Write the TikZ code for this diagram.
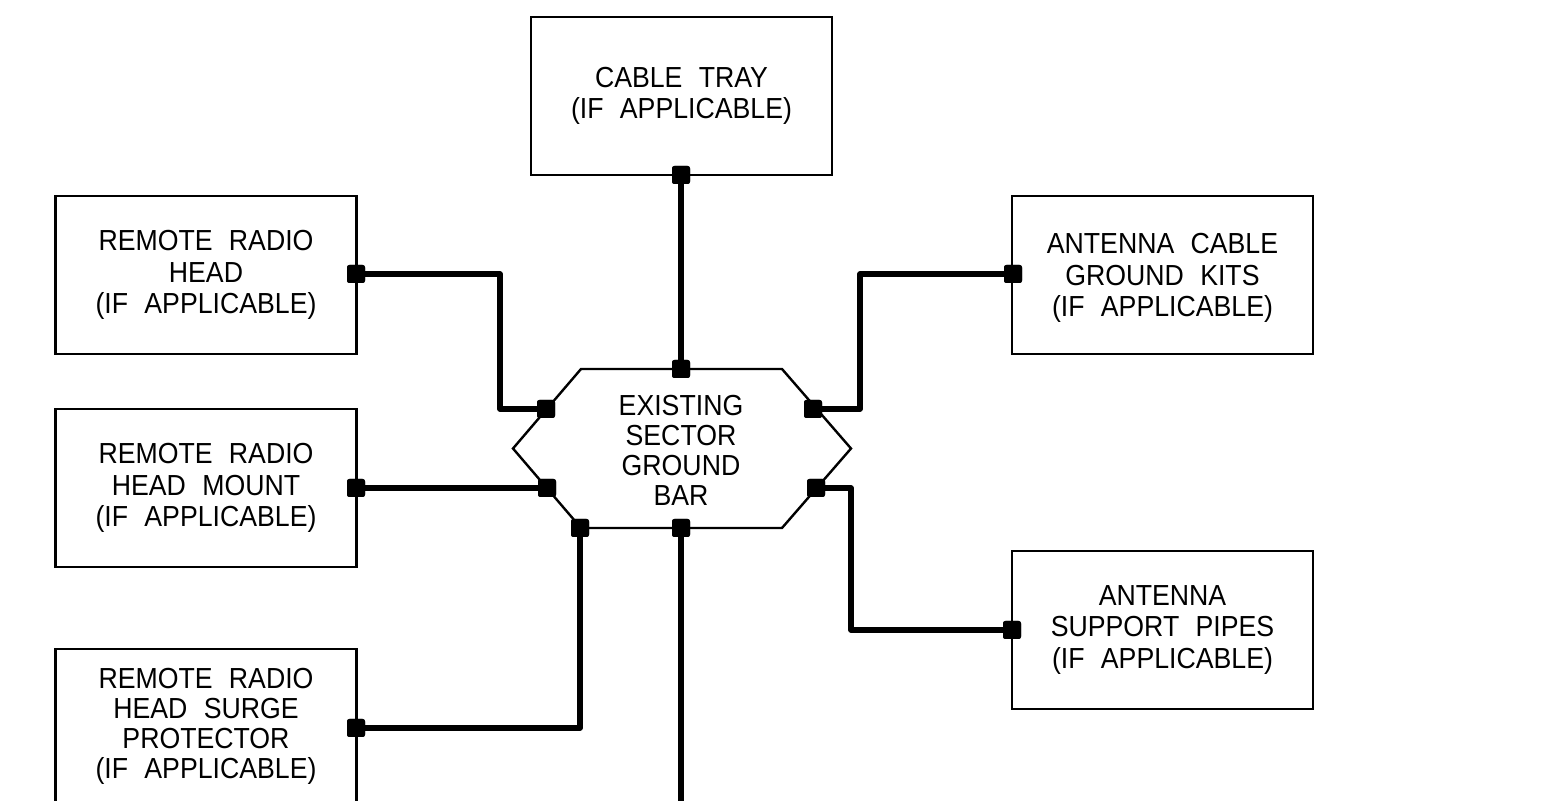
\documentclass[tikz,border=0pt]{standalone}
\usepackage{fontspec}
\setmainfont[FakeStretch=0.92,WordSpace=2.2]{Liberation Sans}
\begin{document}
\begin{tikzpicture}[x=0.5pt,y=-0.5pt,
  box/.style={draw=black,line width=1.2pt,minimum width=150.5pt,minimum height=79pt,inner sep=0pt,align=center,font=\fontsize{14.5pt}{15.7pt}\selectfont},
  lbl/.style={align=center,inner sep=0pt,font=\fontsize{14.5pt}{15pt}\selectfont},
  term/.style={fill=black,draw=none,minimum size=9pt,inner sep=0pt,rounded corners=1.2pt},
  wire/.style={line width=2.6pt,line join=round},
  edge/.style={line width=1.2pt,line join=miter}]
\useasboundingbox (0,0) rectangle (1544,801);
\fill[white] (0,0) rectangle (1544,801);
\begin{scope}
\clip (0,0) rectangle (1544,801);
% boxes
\node[box] (tray) at (681.5,96) {CABLE TRAY\\(IF APPLICABLE)};
\node[box] (rrh) at (206,275) {REMOTE RADIO\\HEAD\\(IF APPLICABLE)};
\node[box] (mount) at (206,488) {REMOTE RADIO\\HEAD MOUNT\\(IF APPLICABLE)};
\node[box,anchor=north] (surge) at (206,648) {};
\node[lbl] (surgetxt) at (206,726) {REMOTE RADIO\\HEAD SURGE\\PROTECTOR\\(IF APPLICABLE)};
\node[box] (kits) at (1162.5,275) {};
\node[box,draw=none] (kitstxt) at (1162.5,278) {ANTENNA CABLE\\GROUND KITS\\(IF APPLICABLE)};
\node[box] (pipes) at (1162.5,630) {ANTENNA\\SUPPORT PIPES\\(IF APPLICABLE)};
% ground bar
\coordinate (h1) at (581,369);
\coordinate (h2) at (782,369);
\coordinate (h3) at (851,448.5);
\coordinate (h4) at (782,528);
\coordinate (h5) at (581,528);
\coordinate (h6) at (513,448.5);
\draw[edge] (h1) -- (h2) -- (h3) -- (h4) -- (h5) -- (h6) -- cycle;
\node[lbl] (bar) at (681,450) {EXISTING\\SECTOR\\GROUND\\BAR};
% terminals
\node[term] (t1) at (681,175) {};
\node[term] (t2) at (681,369) {};
\node[term] (a1) at (356,274) {};
\node[term] (a2) at (546,409) {};
\node[term] (b1) at (356,488) {};
\node[term] (b2) at (547,488) {};
\node[term] (c1) at (356,728) {};
\node[term] (c2) at (580,528) {};
\node[term] (d1) at (681,528) {};
\coordinate (dend) at (681,820);
\node[term] (e1) at (1013,274) {};
\node[term] (e2) at (813,409) {};
\node[term] (f1) at (1012,630) {};
\node[term] (f2) at (816,488) {};
% connectors
\draw[wire] (t1.center) -- (t2.center);
\draw[wire] (a1.center) -- ++(144,0) |- (a2.center);
\draw[wire] (b1.center) -- (b2.center);
\draw[wire] (c1.center) -| (c2.center);
\draw[wire] (d1.center) -- (dend);
\draw[wire] (e1.center) -- ++(-153,0) |- (e2.center);
\draw[wire] (f1.center) -- ++(-161,0) |- (f2.center);
% redraw terminals on top
\foreach \n in {t1,t2,a1,a2,b1,b2,c1,c2,d1,e1,e2,f1,f2}
  \fill[rounded corners=1.2pt] ([shift={(-9,-9)}]\n.center) rectangle ([shift={(9,9)}]\n.center);
\end{scope}
\end{tikzpicture}
\end{document}
